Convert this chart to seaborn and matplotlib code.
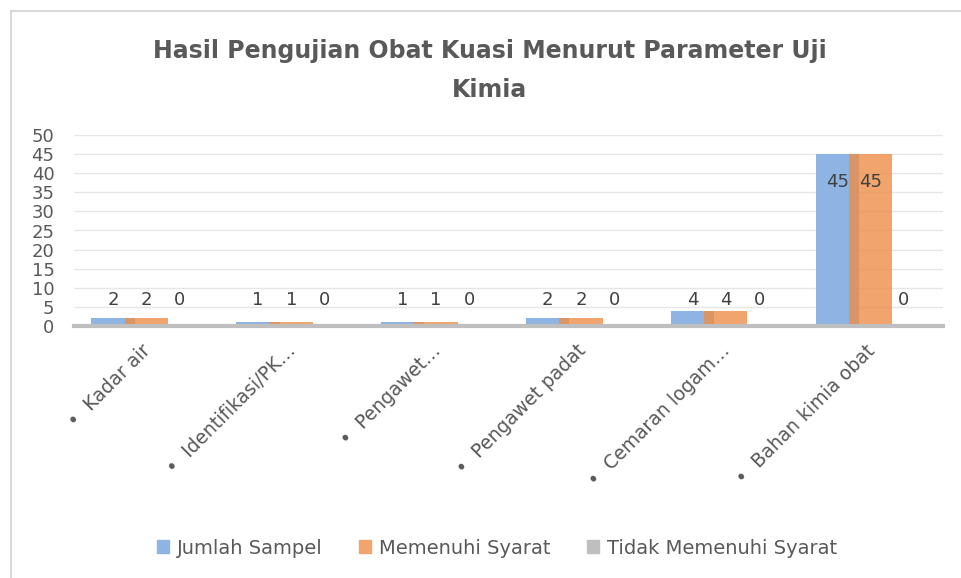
import matplotlib
matplotlib.use('Agg')
import matplotlib.pyplot as plt
import matplotlib.patches as mpatches
from matplotlib.transforms import ScaledTranslation
import pandas as pd
import seaborn as sns

# Data
categories = ['Kadar air', 'Identifikasi/PK…', 'Pengawet…', 'Pengawet padat',
              'Cemaran logam…', 'Bahan kimia obat']
series = ['Jumlah Sampel', 'Memenuhi Syarat', 'Tidak Memenuhi Syarat']
jumlah_sampel = [2, 1, 1, 2, 4, 45]
memenuhi_syarat = [2, 1, 1, 2, 4, 45]
tidak_memenuhi = [0, 0, 0, 0, 0, 0]
y_ticks = list(range(0, 55, 5))

colors = ['#8db4e2', '#ee8e47', '#bfbfbf']
legend_colors = ['#8db4e2', '#f1a46c', '#bfbfbf']
text_color = '#595959'

df = pd.DataFrame({
    'kategori': categories * 3,
    'seri': [s for s in series for _ in categories],
    'nilai': jumlah_sampel + memenuhi_syarat + tidak_memenuhi,
})

sns.set_style('white')
plt.rcParams['font.family'] = ['DejaVu Sans']

fig = plt.figure(figsize=(9.62, 5.78), dpi=100)
ax = fig.add_axes([74 / 962, 1 - 326 / 578, (943 - 74) / 962, 191 / 578])

sns.barplot(data=df, x='kategori', y='nilai', hue='seri', order=categories,
            hue_order=series, palette=colors, saturation=1, width=0.69,
            legend=False, ax=ax, zorder=3)

# widen bars so neighbouring series overlap like the original
bar_w = 0.30
for i, cont in enumerate(ax.containers):
    for patch in cont.patches:
        cx = patch.get_x() + patch.get_width() / 2
        patch.set_width(bar_w)
        patch.set_x(cx - bar_w / 2)
        patch.set_edgecolor('none')
        if i == 1:
            patch.set_alpha(0.8)
            patch.set_zorder(4)

# data labels
for cont, vals in zip(ax.containers, [jumlah_sampel, memenuhi_syarat, tidak_memenuhi]):
    for patch, v in zip(cont.patches, vals):
        cx = patch.get_x() + patch.get_width() / 2
        y = v - 7.4 if v > 10 else 6.7
        ax.text(cx, y, f'{v}', ha='center', va='center', fontsize=13,
                color='#404040', zorder=6)

ax.set_ylim(0, 50)
ax.set_xlim(-0.5, len(categories) - 0.5)
ax.set_yticks(y_ticks)
ax.set_yticklabels([str(t) for t in y_ticks], fontsize=13, color=text_color)
ax.yaxis.grid(True, color='#e6e6e6', linewidth=1, zorder=0)
ax.set_axisbelow(True)
ax.tick_params(axis='y', length=0, pad=14)
ax.tick_params(axis='x', length=0, pad=8)
ax.set_xlabel('')
ax.set_ylabel('')
ax.set_xticks(range(len(categories)))
ax.set_xticklabels(['•  ' + c for c in categories], rotation=45, ha='right',
                   fontsize=13.5, color=text_color)
shift = ScaledTranslation(6 / 72, -3 / 72, fig.dpi_scale_trans)
for lbl in ax.get_xticklabels():
    lbl.set_transform(lbl.get_transform() + shift)
for side in ['top', 'right', 'left']:
    ax.spines[side].set_visible(False)
ax.spines['bottom'].set_color('#bfbfbf')
ax.spines['bottom'].set_linewidth(3)
ax.spines['bottom'].set_zorder(5)

fig.suptitle('Hasil Pengujian Obat Kuasi Menurut Parameter Uji\nKimia',
             x=490 / 962, y=1 - 39 / 578, va='top', fontsize=17,
             fontweight='bold', color=text_color, linespacing=1.8)

handles = [mpatches.Patch(color=c, label=s) for c, s in zip(legend_colors, series)]
fig.legend(handles=handles, loc='center', bbox_to_anchor=(497 / 962, 1 - 548 / 578),
           ncol=3, frameon=False, fontsize=14, handlelength=0.6, handleheight=0.6,
           handletextpad=0.4, columnspacing=1.9, labelcolor=text_color)

# chart area border (cropped on the right and bottom in the original)
fig.add_artist(mpatches.Rectangle((11 / 962, -0.1), 1.2, 1 - 11 / 578 + 0.1,
                                  transform=fig.transFigure, fill=False,
                                  edgecolor='#d9d9d9', linewidth=1.5))

fig.savefig('out.png', dpi=100)
